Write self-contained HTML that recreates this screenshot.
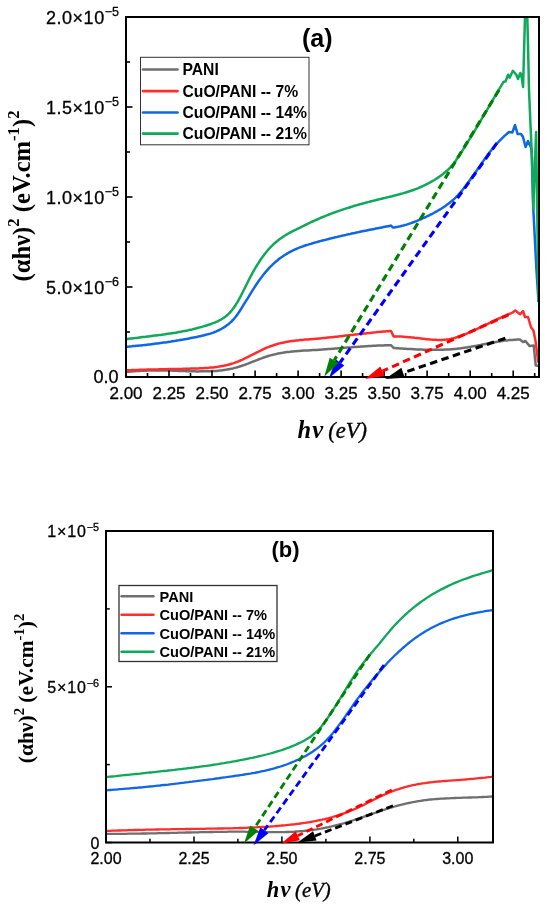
<!DOCTYPE html>
<html><head><meta charset="utf-8"><title>Tauc plots</title>
<style>html,body{margin:0;padding:0;background:#fff}svg{display:block}</style></head>
<body>
<svg width="550" height="906" viewBox="0 0 550 906" font-family="'Liberation Sans',sans-serif" fill="#000">
<rect width="550" height="906" fill="#fff"/>
<defs><clipPath id="ca"><rect x="126" y="17" width="413" height="360"/></clipPath><clipPath id="cb"><rect x="106" y="531" width="387" height="311.5"/></clipPath></defs>
<g clip-path="url(#ca)" fill="none" stroke-linejoin="round">
<path d="M126.0 372.0 L127.5 371.8 L129.0 371.7 L130.5 371.5 L132.0 371.4 L133.5 371.3 L135.0 371.2 L136.5 371.1 L138.0 371.0 L139.6 370.9 L141.1 370.8 L142.6 370.8 L144.1 370.7 L145.6 370.7 L147.1 370.6 L148.6 370.6 L150.1 370.6 L151.6 370.5 L153.1 370.5 L154.6 370.5 L156.1 370.5 L157.6 370.5 L159.1 370.5 L160.6 370.5 L162.1 370.5 L163.6 370.5 L165.1 370.5 L166.7 370.6 L168.2 370.6 L169.7 370.6 L171.2 370.6 L172.7 370.7 L174.2 370.7 L175.7 370.7 L177.2 370.8 L178.7 370.9 L180.2 370.9 L181.7 371.0 L183.2 371.1 L184.7 371.1 L186.2 371.2 L187.7 371.2 L189.2 371.3 L190.7 371.3 L192.2 371.3 L193.8 371.3 L195.3 371.3 L196.8 371.4 L198.3 371.4 L199.8 371.3 L201.3 371.3 L202.8 371.3 L204.3 371.3 L205.8 371.3 L207.3 371.3 L208.8 371.2 L210.3 371.2 L211.8 371.1 L213.3 371.1 L214.8 371.0 L216.3 370.9 L217.8 370.7 L219.4 370.6 L220.9 370.4 L222.4 370.2 L223.9 370.0 L225.4 369.8 L226.9 369.6 L228.4 369.3 L229.9 369.0 L231.4 368.7 L232.9 368.4 L234.4 368.0 L235.9 367.6 L237.4 367.2 L238.9 366.8 L240.4 366.3 L241.9 365.8 L243.4 365.3 L244.9 364.7 L246.5 364.2 L248.0 363.6 L249.5 363.0 L251.0 362.4 L252.5 361.8 L254.0 361.3 L255.5 360.7 L257.0 360.1 L258.5 359.5 L260.0 358.9 L261.5 358.4 L263.0 357.8 L264.5 357.3 L266.0 356.8 L267.5 356.3 L269.0 355.8 L270.5 355.4 L272.1 355.0 L273.6 354.6 L275.1 354.3 L276.6 353.9 L278.1 353.6 L279.6 353.3 L281.1 353.0 L282.6 352.8 L284.1 352.5 L285.6 352.3 L287.1 352.1 L288.6 351.9 L290.1 351.8 L291.6 351.6 L293.1 351.4 L294.6 351.3 L296.1 351.2 L297.6 351.0 L299.2 350.9 L300.7 350.8 L302.2 350.7 L303.7 350.6 L305.2 350.5 L306.7 350.5 L308.2 350.4 L309.7 350.3 L311.2 350.2 L312.7 350.1 L314.2 350.0 L315.7 349.9 L317.2 349.9 L318.7 349.8 L320.2 349.7 L321.7 349.6 L323.2 349.5 L324.8 349.3 L326.3 349.2 L327.8 349.1 L329.3 349.0 L330.8 348.9 L332.3 348.8 L333.8 348.7 L335.3 348.5 L336.8 348.4 L338.3 348.3 L339.8 348.2 L341.3 348.1 L342.8 348.0 L344.3 347.8 L345.8 347.7 L347.3 347.6 L348.8 347.5 L350.3 347.4 L351.9 347.2 L353.4 347.1 L354.9 347.0 L356.4 346.9 L357.9 346.8 L359.4 346.7 L360.9 346.6 L362.4 346.5 L363.9 346.4 L365.4 346.3 L366.9 346.2 L368.4 346.1 L369.9 346.0 L371.4 345.9 L372.9 345.8 L374.4 345.7 L375.9 345.7 L377.4 345.6 L379.0 345.5 L380.5 345.5 L382.0 345.4 L383.5 345.4 L385.0 345.3 L386.5 345.3 L388.0 345.3 L389.5 345.2 L391.0 345.2 L393.6 348.0 L393.6 348.0 L395.1 348.1 L396.6 348.2 L398.1 348.3 L399.6 348.4 L401.1 348.5 L402.6 348.6 L404.1 348.7 L405.6 348.8 L407.1 348.9 L408.6 349.0 L410.2 349.0 L411.7 349.1 L413.2 349.2 L414.7 349.3 L416.2 349.4 L417.7 349.4 L419.2 349.5 L420.7 349.5 L422.2 349.6 L423.7 349.7 L425.2 349.7 L426.7 349.7 L428.2 349.8 L429.7 349.8 L431.2 349.8 L432.7 349.8 L434.2 349.8 L435.7 349.8 L437.2 349.8 L438.7 349.8 L440.2 349.8 L441.8 349.7 L443.3 349.7 L444.8 349.6 L446.3 349.5 L447.8 349.5 L449.3 349.4 L450.8 349.3 L452.3 349.2 L453.8 349.0 L455.3 348.9 L456.8 348.8 L458.3 348.6 L459.8 348.4 L461.3 348.2 L462.8 348.0 L464.3 347.8 L465.8 347.6 L467.3 347.4 L468.8 347.1 L470.3 346.9 L471.8 346.6 L473.4 346.3 L474.9 346.0 L476.4 345.8 L477.9 345.5 L479.4 345.2 L480.9 344.9 L482.4 344.6 L483.9 344.3 L485.4 344.0 L486.9 343.7 L488.4 343.4 L489.9 343.1 L491.4 342.8 L492.9 342.5 L494.4 342.3 L495.9 342.0 L497.4 341.7 L498.9 341.5 L500.4 341.3 L501.9 341.0 L503.4 340.8 L505.0 340.6 L506.5 340.4 L508.0 340.3 L509.5 340.1 L511.0 340.0 L512.5 339.9 L514.0 339.8 L515.5 339.7 L517.0 339.6 L518.5 339.6 L520.0 339.6 L523.0 342.0 L525.4 341.0 L529.7 346.1 L533.7 345.4 L535.7 365.3 L538.3 366.0" stroke="#6f6f6f" stroke-width="2.5"/>
<path d="M126.0 370.4 L127.5 370.3 L129.0 370.2 L130.5 370.2 L132.0 370.1 L133.5 370.0 L135.0 370.0 L136.5 369.9 L138.0 369.9 L139.6 369.8 L141.1 369.8 L142.6 369.7 L144.1 369.7 L145.6 369.7 L147.1 369.6 L148.6 369.6 L150.1 369.5 L151.6 369.5 L153.1 369.5 L154.6 369.4 L156.1 369.4 L157.6 369.4 L159.1 369.3 L160.6 369.3 L162.1 369.3 L163.6 369.2 L165.1 369.2 L166.7 369.2 L168.2 369.1 L169.7 369.1 L171.2 369.1 L172.7 369.0 L174.2 369.0 L175.7 369.0 L177.2 368.9 L178.7 368.9 L180.2 368.9 L181.7 368.9 L183.2 368.8 L184.7 368.8 L186.2 368.8 L187.7 368.7 L189.2 368.7 L190.7 368.6 L192.2 368.6 L193.8 368.5 L195.3 368.5 L196.8 368.4 L198.3 368.4 L199.8 368.3 L201.3 368.2 L202.8 368.2 L204.3 368.1 L205.8 368.0 L207.3 367.9 L208.8 367.8 L210.3 367.6 L211.8 367.5 L213.3 367.4 L214.8 367.2 L216.3 367.0 L217.8 366.8 L219.4 366.6 L220.9 366.3 L222.4 366.0 L223.9 365.8 L225.4 365.4 L226.9 365.1 L228.4 364.7 L229.9 364.3 L231.4 363.8 L232.9 363.4 L234.4 362.9 L235.9 362.3 L237.4 361.8 L238.9 361.2 L240.4 360.5 L241.9 359.9 L243.4 359.2 L244.9 358.4 L246.5 357.7 L248.0 357.0 L249.5 356.2 L251.0 355.4 L252.5 354.7 L254.0 353.9 L255.5 353.1 L257.0 352.3 L258.5 351.6 L260.0 350.8 L261.5 350.1 L263.0 349.4 L264.5 348.7 L266.0 348.0 L267.5 347.4 L269.0 346.8 L270.5 346.2 L272.1 345.7 L273.6 345.2 L275.1 344.7 L276.6 344.2 L278.1 343.8 L279.6 343.4 L281.1 343.0 L282.6 342.7 L284.1 342.4 L285.6 342.1 L287.1 341.8 L288.6 341.6 L290.1 341.3 L291.6 341.1 L293.1 340.9 L294.6 340.7 L296.1 340.5 L297.6 340.4 L299.2 340.2 L300.7 340.0 L302.2 339.9 L303.7 339.8 L305.2 339.6 L306.7 339.5 L308.2 339.4 L309.7 339.3 L311.2 339.2 L312.7 339.0 L314.2 338.9 L315.7 338.8 L317.2 338.7 L318.7 338.5 L320.2 338.4 L321.7 338.2 L323.2 338.1 L324.8 338.0 L326.3 337.8 L327.8 337.6 L329.3 337.5 L330.8 337.3 L332.3 337.2 L333.8 337.0 L335.3 336.8 L336.8 336.7 L338.3 336.5 L339.8 336.3 L341.3 336.2 L342.8 336.0 L344.3 335.8 L345.8 335.6 L347.3 335.5 L348.8 335.3 L350.3 335.1 L351.9 334.9 L353.4 334.8 L354.9 334.6 L356.4 334.4 L357.9 334.2 L359.4 334.1 L360.9 333.9 L362.4 333.7 L363.9 333.5 L365.4 333.4 L366.9 333.2 L368.4 333.1 L369.9 332.9 L371.4 332.7 L372.9 332.6 L374.4 332.4 L375.9 332.3 L377.4 332.1 L379.0 332.0 L380.5 331.8 L382.0 331.7 L383.5 331.6 L385.0 331.5 L386.5 331.3 L388.0 331.2 L389.5 331.1 L391.0 331.0 L393.6 336.4 L393.6 336.4 L395.1 336.4 L396.6 336.4 L398.1 336.5 L399.6 336.5 L401.1 336.6 L402.6 336.7 L404.1 336.8 L405.6 336.9 L407.1 337.0 L408.6 337.2 L410.1 337.3 L411.6 337.4 L413.1 337.6 L414.7 337.8 L416.2 337.9 L417.7 338.1 L419.2 338.3 L420.7 338.5 L422.2 338.7 L423.7 338.8 L425.2 339.0 L426.7 339.2 L428.2 339.3 L429.7 339.4 L431.2 339.6 L432.7 339.7 L434.2 339.8 L435.7 339.8 L437.2 339.9 L438.7 339.9 L440.2 339.9 L441.7 339.9 L443.2 339.8 L444.7 339.7 L446.2 339.6 L447.7 339.4 L449.2 339.2 L450.7 338.9 L452.2 338.6 L453.8 338.2 L455.3 337.8 L456.8 337.3 L458.3 336.8 L459.8 336.3 L461.3 335.7 L462.8 335.1 L464.3 334.6 L465.8 334.0 L467.3 333.3 L468.8 332.7 L470.3 332.0 L471.8 331.4 L473.3 330.7 L474.8 330.0 L476.3 329.3 L477.8 328.6 L479.3 327.9 L480.8 327.2 L482.3 326.5 L483.8 325.7 L485.3 325.0 L486.8 324.3 L488.3 323.6 L489.8 322.8 L491.3 322.1 L492.9 321.4 L494.4 320.7 L495.9 319.9 L497.4 319.2 L498.9 318.5 L500.4 317.8 L501.9 317.2 L503.4 316.5 L504.9 315.8 L506.4 315.2 L507.9 314.5 L509.4 313.9 L510.9 313.3 L512.4 312.7 L515.2 310.4 L520.0 314.3 L523.0 311.0 L525.0 317.0 L528.0 317.0 L531.1 327.5 L533.4 330.2 L535.7 342.1 L538.3 362.6" stroke="#ff2d2d" stroke-width="2.5"/>
<path d="M126.0 346.8 L127.5 346.7 L129.0 346.6 L130.5 346.4 L132.0 346.3 L133.5 346.1 L135.0 346.0 L136.5 345.8 L138.0 345.7 L139.6 345.5 L141.1 345.4 L142.6 345.2 L144.1 345.1 L145.6 344.9 L147.1 344.7 L148.6 344.5 L150.1 344.4 L151.6 344.2 L153.1 344.0 L154.6 343.8 L156.1 343.6 L157.6 343.4 L159.1 343.2 L160.6 343.0 L162.1 342.8 L163.6 342.6 L165.1 342.4 L166.7 342.2 L168.2 341.9 L169.7 341.7 L171.2 341.5 L172.7 341.2 L174.2 341.0 L175.7 340.8 L177.2 340.5 L178.7 340.3 L180.2 340.0 L181.7 339.7 L183.2 339.5 L184.7 339.2 L186.2 338.9 L187.7 338.7 L189.2 338.4 L190.7 338.1 L192.2 337.8 L193.8 337.5 L195.3 337.2 L196.8 336.9 L198.3 336.6 L199.8 336.2 L201.3 335.9 L202.8 335.6 L204.3 335.2 L205.8 334.8 L207.3 334.4 L208.8 334.0 L210.3 333.6 L211.8 333.1 L213.3 332.6 L214.8 332.0 L216.3 331.4 L217.8 330.7 L219.4 330.0 L220.9 329.2 L222.4 328.3 L223.9 327.4 L225.4 326.4 L226.9 325.3 L228.4 324.2 L229.9 322.9 L231.4 321.5 L232.9 320.0 L234.4 318.3 L235.9 316.5 L237.4 314.4 L238.9 312.3 L240.4 310.0 L241.9 307.6 L243.4 305.2 L244.9 302.7 L246.5 300.2 L248.0 297.8 L249.5 295.3 L251.0 292.9 L252.5 290.4 L254.0 288.1 L255.5 285.8 L257.0 283.5 L258.5 281.3 L260.0 279.2 L261.5 277.2 L263.0 275.2 L264.5 273.3 L266.0 271.6 L267.5 269.9 L269.0 268.2 L270.5 266.7 L272.1 265.2 L273.6 263.7 L275.1 262.3 L276.6 261.1 L278.1 259.8 L279.6 258.6 L281.1 257.5 L282.6 256.5 L284.1 255.4 L285.6 254.5 L287.1 253.6 L288.6 252.7 L290.1 251.9 L291.6 251.1 L293.1 250.3 L294.6 249.6 L296.1 249.0 L297.6 248.3 L299.2 247.7 L300.7 247.1 L302.2 246.6 L303.7 246.0 L305.2 245.5 L306.7 245.0 L308.2 244.6 L309.7 244.1 L311.2 243.7 L312.7 243.2 L314.2 242.8 L315.7 242.4 L317.2 242.0 L318.7 241.5 L320.2 241.1 L321.7 240.7 L323.2 240.3 L324.8 240.0 L326.3 239.6 L327.8 239.2 L329.3 238.8 L330.8 238.4 L332.3 238.1 L333.8 237.7 L335.3 237.3 L336.8 237.0 L338.3 236.6 L339.8 236.3 L341.3 235.9 L342.8 235.6 L344.3 235.2 L345.8 234.9 L347.3 234.5 L348.8 234.2 L350.3 233.9 L351.9 233.5 L353.4 233.2 L354.9 232.9 L356.4 232.6 L357.9 232.3 L359.4 231.9 L360.9 231.6 L362.4 231.3 L363.9 231.0 L365.4 230.7 L366.9 230.4 L368.4 230.1 L369.9 229.8 L371.4 229.5 L372.9 229.2 L374.4 228.9 L375.9 228.6 L377.4 228.3 L379.0 228.0 L380.5 227.7 L382.0 227.4 L383.5 227.1 L385.0 226.8 L386.5 226.5 L388.0 226.2 L389.5 225.9 L391.0 225.6 L393.0 227.6 L393.0 227.6 L394.5 227.4 L396.0 227.1 L397.5 226.9 L399.0 226.5 L400.5 226.2 L402.0 225.8 L403.5 225.5 L405.1 225.0 L406.6 224.6 L408.1 224.1 L409.6 223.6 L411.1 223.1 L412.6 222.5 L414.1 222.0 L415.6 221.4 L417.1 220.8 L418.6 220.1 L420.1 219.5 L421.6 218.8 L423.1 218.2 L424.6 217.5 L426.1 216.8 L427.6 216.0 L429.2 215.3 L430.7 214.5 L432.2 213.8 L433.7 213.0 L435.2 212.2 L436.7 211.4 L438.2 210.5 L439.7 209.6 L441.2 208.7 L442.7 207.8 L444.2 206.7 L445.7 205.7 L447.2 204.6 L448.7 203.5 L450.2 202.3 L451.8 201.0 L453.3 199.7 L454.8 198.3 L456.3 196.8 L457.8 195.3 L459.3 193.7 L460.8 192.0 L462.3 190.2 L463.8 188.3 L465.3 186.4 L466.8 184.4 L468.3 182.4 L469.8 180.3 L471.3 178.2 L472.8 176.0 L474.4 173.9 L475.9 171.7 L477.4 169.5 L478.9 167.4 L480.4 165.2 L481.9 163.1 L483.4 160.9 L484.9 158.8 L486.4 156.7 L487.9 154.6 L489.4 152.6 L490.9 150.7 L492.4 148.8 L493.9 147.0 L495.4 145.2 L496.9 143.5 L498.5 141.9 L500.0 140.3 L501.5 138.8 L503.0 137.3 L504.5 135.9 L506.0 134.6 L507.5 133.3 L509.0 132.0 L512.4 132.4 L515.0 125.0 L517.6 134.0 L521.0 134.0 L523.0 137.0 L525.6 147.0 L528.0 141.0 L531.3 148.0 L531.9 157.0 L533.3 208.6 L536.4 269.0 L538.5 302.0" stroke="#0f66e6" stroke-width="2.5"/>
<path d="M126.0 339.2 L127.5 339.0 L129.0 338.8 L130.5 338.6 L132.0 338.4 L133.5 338.2 L135.0 338.1 L136.5 337.9 L138.0 337.7 L139.5 337.5 L141.0 337.3 L142.5 337.1 L144.0 336.9 L145.6 336.8 L147.1 336.6 L148.6 336.4 L150.1 336.2 L151.6 336.0 L153.1 335.8 L154.6 335.6 L156.1 335.4 L157.6 335.2 L159.1 335.1 L160.6 334.9 L162.1 334.7 L163.6 334.5 L165.1 334.3 L166.6 334.0 L168.1 333.8 L169.6 333.6 L171.1 333.4 L172.6 333.1 L174.1 332.9 L175.6 332.7 L177.1 332.4 L178.6 332.1 L180.1 331.9 L181.6 331.6 L183.2 331.3 L184.7 331.0 L186.2 330.7 L187.7 330.4 L189.2 330.0 L190.7 329.7 L192.2 329.4 L193.7 329.0 L195.2 328.6 L196.7 328.2 L198.2 327.8 L199.7 327.4 L201.2 327.0 L202.7 326.6 L204.2 326.1 L205.7 325.7 L207.2 325.2 L208.7 324.7 L210.2 324.2 L211.7 323.7 L213.2 323.1 L214.7 322.6 L216.2 321.9 L217.7 321.3 L219.2 320.5 L220.8 319.7 L222.3 318.8 L223.8 317.8 L225.3 316.7 L226.8 315.5 L228.3 314.1 L229.8 312.6 L231.3 310.9 L232.8 309.0 L234.3 306.9 L235.8 304.7 L237.3 302.3 L238.8 299.6 L240.3 296.9 L241.8 294.0 L243.3 291.0 L244.8 288.0 L246.3 285.0 L247.8 282.0 L249.3 279.0 L250.8 276.1 L252.3 273.3 L253.8 270.6 L255.3 268.0 L256.8 265.5 L258.4 263.1 L259.9 260.8 L261.4 258.5 L262.9 256.4 L264.4 254.4 L265.9 252.5 L267.4 250.7 L268.9 249.0 L270.4 247.4 L271.9 245.8 L273.4 244.4 L274.9 243.0 L276.4 241.7 L277.9 240.5 L279.4 239.3 L280.9 238.3 L282.4 237.2 L283.9 236.2 L285.4 235.3 L286.9 234.4 L288.4 233.5 L289.9 232.7 L291.4 231.9 L292.9 231.1 L294.4 230.3 L296.0 229.6 L297.5 228.8 L299.0 228.1 L300.5 227.4 L302.0 226.6 L303.5 225.9 L305.0 225.1 L306.5 224.4 L308.0 223.7 L309.5 223.0 L311.0 222.2 L312.5 221.5 L314.0 220.8 L315.5 220.1 L317.0 219.5 L318.5 218.8 L320.0 218.2 L321.5 217.5 L323.0 216.9 L324.5 216.3 L326.0 215.7 L327.5 215.1 L329.0 214.5 L330.5 213.9 L332.0 213.3 L333.5 212.8 L335.1 212.2 L336.6 211.7 L338.1 211.1 L339.6 210.6 L341.1 210.1 L342.6 209.6 L344.1 209.1 L345.6 208.6 L347.1 208.1 L348.6 207.7 L350.1 207.2 L351.6 206.7 L353.1 206.3 L354.6 205.8 L356.1 205.4 L357.6 205.0 L359.1 204.5 L360.6 204.1 L362.1 203.7 L363.6 203.3 L365.1 202.9 L366.6 202.5 L368.1 202.1 L369.6 201.7 L371.1 201.3 L372.7 200.9 L374.2 200.6 L375.7 200.2 L377.2 199.8 L378.7 199.4 L380.2 199.1 L381.7 198.7 L383.2 198.3 L384.7 198.0 L386.2 197.6 L387.7 197.3 L389.2 196.9 L390.7 196.5 L392.2 196.2 L393.7 195.8 L395.2 195.4 L396.7 195.0 L398.2 194.6 L399.7 194.2 L401.2 193.8 L402.7 193.4 L404.2 192.9 L405.7 192.5 L407.2 192.0 L408.7 191.5 L410.3 191.0 L411.8 190.5 L413.3 190.0 L414.8 189.4 L416.3 188.9 L417.8 188.3 L419.3 187.6 L420.8 187.0 L422.3 186.3 L423.8 185.6 L425.3 184.9 L426.8 184.2 L428.3 183.4 L429.8 182.6 L431.3 181.7 L432.8 180.9 L434.3 180.0 L435.8 179.0 L437.3 178.1 L438.8 177.1 L440.3 176.0 L441.8 174.9 L443.3 173.8 L444.8 172.6 L446.3 171.3 L447.9 169.9 L449.4 168.4 L450.9 166.8 L452.4 165.1 L453.9 163.2 L455.4 161.2 L456.9 159.0 L458.4 156.8 L459.9 154.5 L461.4 152.2 L462.9 149.8 L464.4 147.5 L465.9 145.1 L467.4 142.7 L468.9 140.2 L470.4 137.8 L471.9 135.3 L473.4 132.9 L474.9 130.4 L476.4 127.9 L477.9 125.3 L479.4 122.8 L480.9 120.3 L482.4 117.7 L483.9 115.2 L485.5 112.6 L487.0 110.0 L488.5 107.4 L490.0 104.8 L491.5 102.3 L493.0 99.7 L494.5 97.1 L496.0 94.5 L497.5 91.9 L499.0 89.3 L500.5 86.8 L502.0 84.4 L503.5 82.0 L505.6 81.3 L508.1 74.7 L509.6 77.8 L512.9 70.8 L516.3 74.7 L518.0 79.0 L520.3 73.0 L521.3 74.7 L523.1 87.0 L525.3 5.0 L527.0 5.0 L528.2 53.6 L529.0 90.0 L531.9 157.0 L533.3 208.6 L536.1 132.0 L537.5 230.0 L538.5 302.0" stroke="#10a85a" stroke-width="2.5"/>
</g>
<rect x="140.5" y="57.3" width="168.5" height="87.5" fill="#fff" stroke="#333" stroke-width="1.0"/><line x1="143.0" y1="69.5" x2="177.5" y2="69.5" stroke="#6f6f6f" stroke-width="2.7" stroke-linecap="round"/><text transform="translate(182.5 75.1) scale(1 1.030)" font-size="15.7" font-weight="bold">PANI</text><line x1="143.0" y1="91.1" x2="177.5" y2="91.1" stroke="#ff2d2d" stroke-width="2.7" stroke-linecap="round"/><text transform="translate(182.5 96.7) scale(1 1.030)" font-size="15.7" font-weight="bold">CuO/PANI -- 7%</text><line x1="143.0" y1="112.5" x2="177.5" y2="112.5" stroke="#0f66e6" stroke-width="2.7" stroke-linecap="round"/><text transform="translate(182.5 118.1) scale(1 1.030)" font-size="15.7" font-weight="bold">CuO/PANI -- 14%</text><line x1="143.0" y1="133.6" x2="177.5" y2="133.6" stroke="#10a85a" stroke-width="2.7" stroke-linecap="round"/><text transform="translate(182.5 139.2) scale(1 1.030)" font-size="15.7" font-weight="bold">CuO/PANI -- 21%</text>
<rect x="126.0" y="17.0" width="413.0" height="360.0" fill="none" stroke="#000" stroke-width="2"/>
<g stroke="#000" stroke-width="1.6"><line x1="126.0" y1="377.0" x2="126.0" y2="370.5"/><line x1="169.0" y1="377.0" x2="169.0" y2="370.5"/><line x1="212.0" y1="377.0" x2="212.0" y2="370.5"/><line x1="255.1" y1="377.0" x2="255.1" y2="370.5"/><line x1="298.1" y1="377.0" x2="298.1" y2="370.5"/><line x1="341.1" y1="377.0" x2="341.1" y2="370.5"/><line x1="384.1" y1="377.0" x2="384.1" y2="370.5"/><line x1="427.1" y1="377.0" x2="427.1" y2="370.5"/><line x1="470.2" y1="377.0" x2="470.2" y2="370.5"/><line x1="513.2" y1="377.0" x2="513.2" y2="370.5"/><line x1="147.5" y1="377.0" x2="147.5" y2="373.0"/><line x1="190.5" y1="377.0" x2="190.5" y2="373.0"/><line x1="233.6" y1="377.0" x2="233.6" y2="373.0"/><line x1="276.6" y1="377.0" x2="276.6" y2="373.0"/><line x1="319.6" y1="377.0" x2="319.6" y2="373.0"/><line x1="362.6" y1="377.0" x2="362.6" y2="373.0"/><line x1="405.6" y1="377.0" x2="405.6" y2="373.0"/><line x1="448.7" y1="377.0" x2="448.7" y2="373.0"/><line x1="491.7" y1="377.0" x2="491.7" y2="373.0"/><line x1="534.7" y1="377.0" x2="534.7" y2="373.0"/><line x1="126.0" y1="377.0" x2="132.5" y2="377.0"/><line x1="126.0" y1="287.0" x2="132.5" y2="287.0"/><line x1="126.0" y1="197.0" x2="132.5" y2="197.0"/><line x1="126.0" y1="107.0" x2="132.5" y2="107.0"/><line x1="126.0" y1="17.0" x2="132.5" y2="17.0"/><line x1="126.0" y1="332.0" x2="130.0" y2="332.0"/><line x1="126.0" y1="242.0" x2="130.0" y2="242.0"/><line x1="126.0" y1="152.0" x2="130.0" y2="152.0"/><line x1="126.0" y1="62.0" x2="130.0" y2="62.0"/></g>
<g fill="none"><line x1="505.4" y1="338.2" x2="403.1" y2="372.8" stroke="#000000" stroke-width="3.1" stroke-dasharray="7.5 4.5"/><polygon points="385.1,378.9 404.7,377.8 401.4,367.8" fill="#000000"/><line x1="508.5" y1="314.8" x2="382.4" y2="371.2" stroke="#ff0000" stroke-width="3.1" stroke-dasharray="7.5 4.5"/><polygon points="365.1,379.0 384.6,376.0 380.3,366.4" fill="#ff0000"/><line x1="496.8" y1="143.2" x2="340.1" y2="362.5" stroke="#0000ff" stroke-width="3.1" stroke-dasharray="7.5 4.5"/><polygon points="329.0,378.0 344.3,365.6 335.8,359.5" fill="#0000ff"/><line x1="499.0" y1="90.0" x2="334.2" y2="360.4" stroke="#008000" stroke-width="3.1" stroke-dasharray="7.5 4.5"/><polygon points="324.3,376.6 338.6,363.1 329.7,357.7" fill="#008000"/></g>
<text x="126.0" y="398.6" text-anchor="middle" font-size="17" stroke="#000" stroke-width="0.3">2.00</text>
<text x="169.0" y="398.6" text-anchor="middle" font-size="17" stroke="#000" stroke-width="0.3">2.25</text>
<text x="212.0" y="398.6" text-anchor="middle" font-size="17" stroke="#000" stroke-width="0.3">2.50</text>
<text x="255.1" y="398.6" text-anchor="middle" font-size="17" stroke="#000" stroke-width="0.3">2.75</text>
<text x="298.1" y="398.6" text-anchor="middle" font-size="17" stroke="#000" stroke-width="0.3">3.00</text>
<text x="341.1" y="398.6" text-anchor="middle" font-size="17" stroke="#000" stroke-width="0.3">3.25</text>
<text x="384.1" y="398.6" text-anchor="middle" font-size="17" stroke="#000" stroke-width="0.3">3.50</text>
<text x="427.1" y="398.6" text-anchor="middle" font-size="17" stroke="#000" stroke-width="0.3">3.75</text>
<text x="470.2" y="398.6" text-anchor="middle" font-size="17" stroke="#000" stroke-width="0.3">4.00</text>
<text x="513.2" y="398.6" text-anchor="middle" font-size="17" stroke="#000" stroke-width="0.3">4.25</text>
<text x="118.5" y="383" text-anchor="end" font-size="18" stroke="#000" stroke-width="0.3">0.0</text>
<text x="119.0" y="294.0" text-anchor="end" font-size="18.0" letter-spacing="0.55" stroke="#000" stroke-width="0.3">5.0×10<tspan font-size="12.5" dy="-8.0" letter-spacing="0">−6</tspan></text>
<text x="119.0" y="204.0" text-anchor="end" font-size="18.0" letter-spacing="0.55" stroke="#000" stroke-width="0.3">1.0×10<tspan font-size="12.5" dy="-8.0" letter-spacing="0">−5</tspan></text>
<text x="119.0" y="114.0" text-anchor="end" font-size="18.0" letter-spacing="0.55" stroke="#000" stroke-width="0.3">1.5×10<tspan font-size="12.5" dy="-8.0" letter-spacing="0">−5</tspan></text>
<text x="119.0" y="24.0" text-anchor="end" font-size="18.0" letter-spacing="0.55" stroke="#000" stroke-width="0.3">2.0×10<tspan font-size="12.5" dy="-8.0" letter-spacing="0">−5</tspan></text>
<text x="317.3" y="47.2" text-anchor="middle" font-size="25" font-weight="bold">(a)</text>
<text transform="translate(29.6 196.0) rotate(-90)" text-anchor="middle" font-family="'Liberation Serif',serif" font-weight="bold" font-size="24.6">(αhν)<tspan font-size="16.7" dy="-10.3">2</tspan><tspan dy="10.3"> (eV.cm</tspan><tspan font-size="16.7" dy="-10.3">-1</tspan><tspan dy="10.3">)</tspan><tspan font-size="16.7" dy="-10.3">2</tspan></text>
<g font-family="'Liberation Serif',serif" font-style="italic"><text x="297.5" y="437.7" font-size="24.5" font-weight="bold" letter-spacing="1.2">hν</text><text x="328.3" y="437.7" font-size="22.5" stroke="#000" stroke-width="0.35">(eV)</text></g>
<g clip-path="url(#cb)" fill="none" stroke-linejoin="round">
<path d="M106.0 833.8 L108.0 833.8 L110.0 833.8 L112.0 833.8 L114.0 833.8 L116.0 833.8 L118.0 833.8 L120.0 833.8 L122.0 833.8 L124.0 833.8 L126.1 833.8 L128.1 833.7 L130.1 833.7 L132.1 833.7 L134.1 833.7 L136.1 833.6 L138.1 833.6 L140.1 833.6 L142.1 833.5 L144.1 833.5 L146.1 833.5 L148.1 833.4 L150.1 833.4 L152.1 833.3 L154.1 833.3 L156.1 833.3 L158.1 833.2 L160.1 833.2 L162.1 833.1 L164.2 833.1 L166.2 833.0 L168.2 833.0 L170.2 832.9 L172.2 832.9 L174.2 832.8 L176.2 832.8 L178.2 832.7 L180.2 832.7 L182.2 832.6 L184.2 832.6 L186.2 832.5 L188.2 832.5 L190.2 832.5 L192.2 832.4 L194.2 832.4 L196.2 832.3 L198.2 832.3 L200.2 832.2 L202.2 832.2 L204.3 832.1 L206.3 832.1 L208.3 832.1 L210.3 832.0 L212.3 832.0 L214.3 831.9 L216.3 831.9 L218.3 831.9 L220.3 831.8 L222.3 831.8 L224.3 831.8 L226.3 831.8 L228.3 831.7 L230.3 831.7 L232.3 831.7 L234.3 831.7 L236.3 831.7 L238.3 831.7 L240.3 831.7 L242.4 831.7 L244.4 831.7 L246.4 831.8 L248.4 831.8 L250.4 831.8 L252.4 831.8 L254.4 831.9 L256.4 831.9 L258.4 831.9 L260.4 832.0 L262.4 832.0 L264.4 832.0 L266.4 832.1 L268.4 832.1 L270.4 832.1 L272.4 832.1 L274.4 832.1 L276.4 832.1 L278.4 832.1 L280.5 832.1 L282.5 832.1 L284.5 832.1 L286.5 832.0 L288.5 832.0 L290.5 831.9 L292.5 831.8 L294.5 831.7 L296.5 831.5 L298.5 831.4 L300.5 831.2 L302.5 831.1 L304.5 830.9 L306.5 830.7 L308.5 830.5 L310.5 830.2 L312.5 830.0 L314.5 829.7 L316.5 829.4 L318.5 829.0 L320.6 828.7 L322.6 828.3 L324.6 827.9 L326.6 827.5 L328.6 827.1 L330.6 826.6 L332.6 826.2 L334.6 825.7 L336.6 825.2 L338.6 824.7 L340.6 824.1 L342.6 823.6 L344.6 823.0 L346.6 822.4 L348.6 821.8 L350.6 821.2 L352.6 820.5 L354.6 819.9 L356.6 819.2 L358.7 818.5 L360.7 817.8 L362.7 817.1 L364.7 816.4 L366.7 815.7 L368.7 815.0 L370.7 814.4 L372.7 813.7 L374.7 813.0 L376.7 812.3 L378.7 811.6 L380.7 810.9 L382.7 810.2 L384.7 809.6 L386.7 808.9 L388.7 808.3 L390.7 807.7 L392.7 807.1 L394.7 806.5 L396.8 805.9 L398.8 805.4 L400.8 804.9 L402.8 804.4 L404.8 803.9 L406.8 803.4 L408.8 803.0 L410.8 802.6 L412.8 802.2 L414.8 801.8 L416.8 801.4 L418.8 801.1 L420.8 800.8 L422.8 800.5 L424.8 800.2 L426.8 800.0 L428.8 799.7 L430.8 799.5 L432.8 799.4 L434.8 799.2 L436.9 799.0 L438.9 798.9 L440.9 798.7 L442.9 798.6 L444.9 798.5 L446.9 798.4 L448.9 798.3 L450.9 798.2 L452.9 798.1 L454.9 798.0 L456.9 797.9 L458.9 797.9 L460.9 797.8 L462.9 797.7 L464.9 797.7 L466.9 797.6 L468.9 797.5 L470.9 797.5 L472.9 797.4 L475.0 797.3 L477.0 797.3 L479.0 797.2 L481.0 797.1 L483.0 797.0 L485.0 796.9 L487.0 796.8 L489.0 796.6 L491.0 796.5 L493.0 796.3" stroke="#6f6f6f" stroke-width="2.3"/>
<path d="M106.0 831.0 L108.0 830.9 L110.0 830.8 L112.0 830.7 L114.0 830.7 L116.0 830.6 L118.0 830.5 L120.0 830.5 L122.0 830.4 L124.0 830.3 L126.1 830.3 L128.1 830.2 L130.1 830.1 L132.1 830.1 L134.1 830.0 L136.1 830.0 L138.1 829.9 L140.1 829.9 L142.1 829.8 L144.1 829.8 L146.1 829.7 L148.1 829.7 L150.1 829.6 L152.1 829.6 L154.1 829.6 L156.1 829.5 L158.1 829.5 L160.1 829.4 L162.1 829.4 L164.2 829.4 L166.2 829.3 L168.2 829.3 L170.2 829.3 L172.2 829.2 L174.2 829.2 L176.2 829.2 L178.2 829.2 L180.2 829.1 L182.2 829.1 L184.2 829.1 L186.2 829.0 L188.2 829.0 L190.2 829.0 L192.2 828.9 L194.2 828.9 L196.2 828.9 L198.2 828.9 L200.2 828.8 L202.2 828.8 L204.3 828.8 L206.3 828.7 L208.3 828.7 L210.3 828.7 L212.3 828.6 L214.3 828.6 L216.3 828.6 L218.3 828.5 L220.3 828.5 L222.3 828.5 L224.3 828.4 L226.3 828.4 L228.3 828.3 L230.3 828.3 L232.3 828.3 L234.3 828.2 L236.3 828.2 L238.3 828.1 L240.3 828.0 L242.4 828.0 L244.4 827.9 L246.4 827.8 L248.4 827.7 L250.4 827.6 L252.4 827.5 L254.4 827.4 L256.4 827.3 L258.4 827.2 L260.4 827.1 L262.4 827.0 L264.4 826.9 L266.4 826.8 L268.4 826.6 L270.4 826.5 L272.4 826.3 L274.4 826.2 L276.4 826.0 L278.4 825.9 L280.5 825.7 L282.5 825.5 L284.5 825.3 L286.5 825.1 L288.5 824.9 L290.5 824.7 L292.5 824.5 L294.5 824.3 L296.5 824.0 L298.5 823.8 L300.5 823.5 L302.5 823.2 L304.5 822.9 L306.5 822.6 L308.5 822.3 L310.5 822.0 L312.5 821.6 L314.5 821.2 L316.5 820.8 L318.5 820.4 L320.6 820.0 L322.6 819.5 L324.6 819.1 L326.6 818.6 L328.6 818.1 L330.6 817.5 L332.6 817.0 L334.6 816.4 L336.6 815.8 L338.6 815.2 L340.6 814.5 L342.6 813.8 L344.6 813.1 L346.6 812.4 L348.6 811.6 L350.6 810.8 L352.6 810.0 L354.6 809.1 L356.6 808.2 L358.7 807.3 L360.7 806.3 L362.7 805.4 L364.7 804.4 L366.7 803.3 L368.7 802.3 L370.7 801.3 L372.7 800.3 L374.7 799.3 L376.7 798.3 L378.7 797.3 L380.7 796.3 L382.7 795.4 L384.7 794.5 L386.7 793.6 L388.7 792.8 L390.7 792.0 L392.7 791.2 L394.7 790.4 L396.8 789.7 L398.8 789.1 L400.8 788.4 L402.8 787.8 L404.8 787.2 L406.8 786.7 L408.8 786.1 L410.8 785.7 L412.8 785.2 L414.8 784.8 L416.8 784.4 L418.8 784.0 L420.8 783.7 L422.8 783.3 L424.8 783.1 L426.8 782.8 L428.8 782.5 L430.8 782.3 L432.8 782.1 L434.8 781.9 L436.9 781.7 L438.9 781.5 L440.9 781.4 L442.9 781.2 L444.9 781.0 L446.9 780.9 L448.9 780.7 L450.9 780.6 L452.9 780.4 L454.9 780.3 L456.9 780.1 L458.9 780.0 L460.9 779.8 L462.9 779.6 L464.9 779.5 L466.9 779.3 L468.9 779.1 L470.9 778.9 L472.9 778.8 L475.0 778.6 L477.0 778.4 L479.0 778.2 L481.0 778.0 L483.0 777.8 L485.0 777.6 L487.0 777.3 L489.0 777.1 L491.0 776.9 L493.0 776.6" stroke="#ff2d2d" stroke-width="2.3"/>
<path d="M106.0 790.3 L108.0 790.2 L110.0 790.0 L112.0 789.9 L114.0 789.7 L116.0 789.6 L118.0 789.4 L120.0 789.2 L122.0 789.1 L124.0 788.9 L126.1 788.7 L128.1 788.6 L130.1 788.4 L132.1 788.2 L134.1 788.0 L136.1 787.9 L138.1 787.7 L140.1 787.5 L142.1 787.3 L144.1 787.1 L146.1 786.9 L148.1 786.7 L150.1 786.5 L152.1 786.3 L154.1 786.1 L156.1 785.9 L158.1 785.7 L160.1 785.5 L162.1 785.2 L164.2 785.0 L166.2 784.8 L168.2 784.6 L170.2 784.3 L172.2 784.1 L174.2 783.9 L176.2 783.6 L178.2 783.4 L180.2 783.1 L182.2 782.9 L184.2 782.7 L186.2 782.4 L188.2 782.2 L190.2 781.9 L192.2 781.7 L194.2 781.4 L196.2 781.2 L198.2 780.9 L200.2 780.6 L202.2 780.4 L204.3 780.1 L206.3 779.9 L208.3 779.6 L210.3 779.3 L212.3 779.1 L214.3 778.8 L216.3 778.5 L218.3 778.3 L220.3 778.0 L222.3 777.7 L224.3 777.4 L226.3 777.2 L228.3 776.9 L230.3 776.6 L232.3 776.3 L234.3 776.0 L236.3 775.7 L238.3 775.5 L240.3 775.2 L242.4 774.9 L244.4 774.5 L246.4 774.2 L248.4 773.9 L250.4 773.6 L252.4 773.2 L254.4 772.9 L256.4 772.5 L258.4 772.1 L260.4 771.7 L262.4 771.2 L264.4 770.8 L266.4 770.3 L268.4 769.8 L270.4 769.3 L272.4 768.8 L274.4 768.3 L276.4 767.7 L278.4 767.1 L280.5 766.5 L282.5 765.8 L284.5 765.2 L286.5 764.5 L288.5 763.7 L290.5 762.9 L292.5 762.1 L294.5 761.3 L296.5 760.4 L298.5 759.5 L300.5 758.5 L302.5 757.5 L304.5 756.5 L306.5 755.4 L308.5 754.2 L310.5 753.0 L312.5 751.7 L314.5 750.3 L316.5 748.9 L318.5 747.3 L320.6 745.6 L322.6 743.9 L324.6 742.0 L326.6 740.0 L328.6 737.9 L330.6 735.7 L332.6 733.4 L334.6 730.9 L336.6 728.3 L338.6 725.6 L340.6 722.9 L342.6 720.2 L344.6 717.3 L346.6 714.5 L348.6 711.6 L350.6 708.7 L352.6 705.8 L354.6 703.0 L356.6 700.1 L358.7 697.4 L360.7 694.7 L362.7 692.0 L364.7 689.5 L366.7 686.9 L368.7 684.5 L370.7 682.0 L372.7 679.6 L374.7 677.3 L376.7 675.0 L378.7 672.7 L380.7 670.4 L382.7 668.2 L384.7 666.0 L386.7 663.8 L388.7 661.6 L390.7 659.5 L392.7 657.5 L394.7 655.5 L396.8 653.6 L398.8 651.7 L400.8 649.8 L402.8 648.0 L404.8 646.3 L406.8 644.6 L408.8 643.0 L410.8 641.4 L412.8 639.9 L414.8 638.4 L416.8 637.0 L418.8 635.6 L420.8 634.2 L422.8 633.0 L424.8 631.7 L426.8 630.5 L428.8 629.4 L430.8 628.3 L432.8 627.2 L434.8 626.2 L436.9 625.2 L438.9 624.3 L440.9 623.4 L442.9 622.6 L444.9 621.8 L446.9 621.0 L448.9 620.2 L450.9 619.5 L452.9 618.8 L454.9 618.2 L456.9 617.6 L458.9 617.0 L460.9 616.4 L462.9 615.9 L464.9 615.3 L466.9 614.8 L468.9 614.4 L470.9 613.9 L472.9 613.5 L475.0 613.1 L477.0 612.7 L479.0 612.3 L481.0 611.9 L483.0 611.6 L485.0 611.2 L487.0 610.9 L489.0 610.6 L491.0 610.3 L493.0 610.0" stroke="#0f66e6" stroke-width="2.3"/>
<path d="M106.0 777.1 L108.0 776.9 L110.0 776.7 L112.0 776.5 L114.0 776.3 L116.0 776.1 L118.0 775.8 L120.0 775.6 L122.0 775.4 L124.0 775.2 L126.1 775.0 L128.1 774.8 L130.1 774.6 L132.1 774.4 L134.1 774.2 L136.1 774.0 L138.1 773.8 L140.1 773.6 L142.1 773.3 L144.1 773.1 L146.1 772.9 L148.1 772.7 L150.1 772.5 L152.1 772.3 L154.1 772.1 L156.1 771.9 L158.1 771.6 L160.1 771.4 L162.1 771.2 L164.2 771.0 L166.2 770.8 L168.2 770.5 L170.2 770.3 L172.2 770.1 L174.2 769.9 L176.2 769.6 L178.2 769.4 L180.2 769.2 L182.2 769.0 L184.2 768.7 L186.2 768.5 L188.2 768.2 L190.2 768.0 L192.2 767.7 L194.2 767.5 L196.2 767.2 L198.2 767.0 L200.2 766.7 L202.2 766.4 L204.3 766.1 L206.3 765.9 L208.3 765.6 L210.3 765.3 L212.3 765.0 L214.3 764.7 L216.3 764.4 L218.3 764.1 L220.3 763.7 L222.3 763.4 L224.3 763.1 L226.3 762.7 L228.3 762.4 L230.3 762.1 L232.3 761.7 L234.3 761.3 L236.3 761.0 L238.3 760.6 L240.3 760.2 L242.4 759.8 L244.4 759.4 L246.4 759.0 L248.4 758.6 L250.4 758.2 L252.4 757.8 L254.4 757.3 L256.4 756.9 L258.4 756.4 L260.4 756.0 L262.4 755.5 L264.4 755.0 L266.4 754.5 L268.4 754.0 L270.4 753.5 L272.4 752.9 L274.4 752.3 L276.4 751.7 L278.4 751.1 L280.5 750.5 L282.5 749.9 L284.5 749.2 L286.5 748.4 L288.5 747.7 L290.5 746.9 L292.5 746.1 L294.5 745.2 L296.5 744.4 L298.5 743.4 L300.5 742.5 L302.5 741.5 L304.5 740.4 L306.5 739.3 L308.5 738.0 L310.5 736.7 L312.5 735.1 L314.5 733.5 L316.5 731.7 L318.5 729.7 L320.6 727.5 L322.6 725.1 L324.6 722.4 L326.6 719.6 L328.6 716.7 L330.6 713.8 L332.6 710.7 L334.6 707.5 L336.6 704.3 L338.6 701.0 L340.6 697.8 L342.6 694.5 L344.6 691.2 L346.6 687.9 L348.6 684.6 L350.6 681.4 L352.6 678.3 L354.6 675.2 L356.6 672.2 L358.7 669.2 L360.7 666.4 L362.7 663.8 L364.7 661.2 L366.7 658.7 L368.7 656.2 L370.7 653.8 L372.7 651.4 L374.7 649.1 L376.7 646.7 L378.7 644.4 L380.7 642.0 L382.7 639.5 L384.7 637.1 L386.7 634.6 L388.7 632.2 L390.7 629.8 L392.7 627.5 L394.7 625.3 L396.8 623.1 L398.8 621.0 L400.8 619.0 L402.8 617.1 L404.8 615.2 L406.8 613.3 L408.8 611.5 L410.8 609.8 L412.8 608.2 L414.8 606.6 L416.8 605.0 L418.8 603.5 L420.8 602.0 L422.8 600.6 L424.8 599.2 L426.8 597.9 L428.8 596.6 L430.8 595.3 L432.8 594.1 L434.8 592.9 L436.9 591.8 L438.9 590.7 L440.9 589.6 L442.9 588.6 L444.9 587.6 L446.9 586.6 L448.9 585.6 L450.9 584.7 L452.9 583.8 L454.9 582.9 L456.9 582.1 L458.9 581.3 L460.9 580.5 L462.9 579.7 L464.9 579.0 L466.9 578.3 L468.9 577.6 L470.9 576.9 L472.9 576.2 L475.0 575.5 L477.0 574.9 L479.0 574.3 L481.0 573.7 L483.0 573.1 L485.0 572.5 L487.0 571.9 L489.0 571.3 L491.0 570.7 L493.0 570.2" stroke="#10a85a" stroke-width="2.3"/>
</g>
<rect x="119.0" y="585.5" width="158.0" height="76.0" fill="#fff" stroke="#333" stroke-width="1.3"/><line x1="121.5" y1="596.2" x2="153.5" y2="596.2" stroke="#6f6f6f" stroke-width="2.4" stroke-linecap="round"/><text transform="translate(159.5 601.5) scale(1 1.050)" font-size="14.6" font-weight="bold">PANI</text><line x1="121.5" y1="614.8" x2="153.5" y2="614.8" stroke="#ff2d2d" stroke-width="2.4" stroke-linecap="round"/><text transform="translate(159.5 620.1) scale(1 1.050)" font-size="14.6" font-weight="bold">CuO/PANI -- 7%</text><line x1="121.5" y1="633.2" x2="153.5" y2="633.2" stroke="#0f66e6" stroke-width="2.4" stroke-linecap="round"/><text transform="translate(159.5 638.5) scale(1 1.050)" font-size="14.6" font-weight="bold">CuO/PANI -- 14%</text><line x1="121.5" y1="651.8" x2="153.5" y2="651.8" stroke="#10a85a" stroke-width="2.4" stroke-linecap="round"/><text transform="translate(159.5 657.1) scale(1 1.050)" font-size="14.6" font-weight="bold">CuO/PANI -- 21%</text>
<rect x="106.0" y="531.0" width="387.0" height="311.5" fill="none" stroke="#000" stroke-width="2"/>
<g stroke="#000" stroke-width="1.5"><line x1="106.0" y1="842.5" x2="106.0" y2="836.5"/><line x1="194.0" y1="842.5" x2="194.0" y2="836.5"/><line x1="281.9" y1="842.5" x2="281.9" y2="836.5"/><line x1="369.9" y1="842.5" x2="369.9" y2="836.5"/><line x1="457.8" y1="842.5" x2="457.8" y2="836.5"/><line x1="150.0" y1="842.5" x2="150.0" y2="838.7"/><line x1="237.9" y1="842.5" x2="237.9" y2="838.7"/><line x1="325.9" y1="842.5" x2="325.9" y2="838.7"/><line x1="413.8" y1="842.5" x2="413.8" y2="838.7"/><line x1="106.0" y1="842.5" x2="112.0" y2="842.5"/><line x1="106.0" y1="686.8" x2="112.0" y2="686.8"/><line x1="106.0" y1="531.0" x2="112.0" y2="531.0"/><line x1="106.0" y1="764.6" x2="109.8" y2="764.6"/><line x1="106.0" y1="608.9" x2="109.8" y2="608.9"/></g>
<g fill="none"><line x1="393.0" y1="805.7" x2="314.8" y2="836.0" stroke="#000000" stroke-width="2.8" stroke-dasharray="7 4"/><polygon points="297.6,842.6 316.6,840.6 313.0,831.3" fill="#000000"/><line x1="391.8" y1="790.0" x2="297.8" y2="835.7" stroke="#ff0000" stroke-width="2.8" stroke-dasharray="7 4"/><polygon points="281.1,843.8 299.9,840.2 295.6,831.2" fill="#ff0000"/><line x1="384.0" y1="665.0" x2="264.3" y2="830.3" stroke="#0000ff" stroke-width="2.8" stroke-dasharray="7 4"/><polygon points="253.5,845.3 268.4,833.2 260.3,827.4" fill="#0000ff"/><line x1="369.8" y1="654.6" x2="254.3" y2="828.2" stroke="#008000" stroke-width="2.8" stroke-dasharray="7 4"/><polygon points="244.0,843.6 258.4,831.0 250.1,825.4" fill="#008000"/></g>
<text x="106.0" y="864.3" text-anchor="middle" font-size="16" stroke="#000" stroke-width="0.3">2.00</text>
<text x="194.0" y="864.3" text-anchor="middle" font-size="16" stroke="#000" stroke-width="0.3">2.25</text>
<text x="281.9" y="864.3" text-anchor="middle" font-size="16" stroke="#000" stroke-width="0.3">2.50</text>
<text x="369.9" y="864.3" text-anchor="middle" font-size="16" stroke="#000" stroke-width="0.3">2.75</text>
<text x="457.8" y="864.3" text-anchor="middle" font-size="16" stroke="#000" stroke-width="0.3">3.00</text>
<text x="99.5" y="848.5" text-anchor="end" font-size="16" stroke="#000" stroke-width="0.3">0</text>
<text x="99.0" y="692.8" text-anchor="end" font-size="16.0" letter-spacing="0.85" stroke="#000" stroke-width="0.3">5×10<tspan font-size="10.8" dy="-6.2" letter-spacing="0">−6</tspan></text>
<text x="99.0" y="537.0" text-anchor="end" font-size="16.0" letter-spacing="0.85" stroke="#000" stroke-width="0.3">1×10<tspan font-size="10.8" dy="-6.2" letter-spacing="0">−5</tspan></text>
<text x="285.6" y="557" text-anchor="middle" font-size="22" font-weight="bold">(b)</text>
<text transform="translate(33.4 688.5) rotate(-90)" text-anchor="middle" font-family="'Liberation Serif',serif" font-weight="bold" font-size="21.5">(αhν)<tspan font-size="14.6" dy="-9.0">2</tspan><tspan dy="9.0"> (eV.cm</tspan><tspan font-size="14.6" dy="-9.0">-1</tspan><tspan dy="9.0">)</tspan><tspan font-size="14.6" dy="-9.0">2</tspan></text>
<g font-family="'Liberation Serif',serif" font-style="italic"><text x="266.8" y="897.4" font-size="22.5" font-weight="bold" letter-spacing="1.2">hν</text><text x="295.0" y="897.4" font-size="20.8" stroke="#000" stroke-width="0.35">(eV)</text></g>
</svg>
</body></html>
